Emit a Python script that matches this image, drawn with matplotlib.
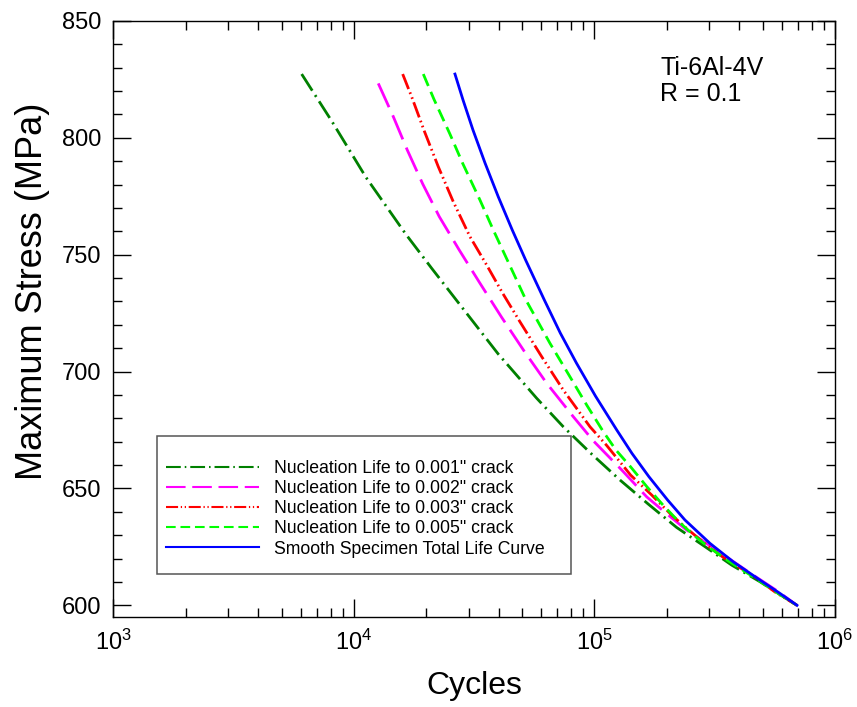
import matplotlib
matplotlib.use("Agg")
import matplotlib.pyplot as plt
from matplotlib.patches import Rectangle

plt.rcParams['font.family'] = ['Liberation Sans', 'DejaVu Sans']
plt.rcParams['mathtext.fontset'] = 'custom'
plt.rcParams['mathtext.rm'] = 'Liberation Sans'
plt.rcParams['mathtext.it'] = 'Liberation Sans:italic'
plt.rcParams['mathtext.bf'] = 'Liberation Sans:bold'

# ---- data ----
labels = ['Nucleation Life to 0.001" crack',
          'Nucleation Life to 0.002" crack',
          'Nucleation Life to 0.003" crack',
          'Nucleation Life to 0.005" crack',
          'Smooth Specimen Total Life Curve']

n001_cycles = [6060, 8080, 11220, 16450, 21040, 29420, 39810, 57500, 74200, 97370,
               127700, 167400, 219700, 288100, 372000, 487600, 609500, 695000]
n001_stress = [827.3, 807.2, 783.1, 758.7, 744.2, 724.9, 707.5, 688.6, 676.4, 664.7,
               653.6, 643.3, 633.3, 625.1, 617.2, 610.1, 603.7, 600.0]

n002_cycles = [12620, 14570, 16660, 19310, 22630, 27400, 33410, 41130, 50900, 63300,
               81650, 98850, 129800, 164900, 202800, 241700, 332500, 457500, 568500, 695000]
n002_stress = [823.3, 809.1, 794.8, 780.3, 766.3, 752.0, 737.8, 723.2, 708.9, 695.0,
               680.7, 670.4, 657.9, 646.4, 638.6, 632.2, 622.6, 612.9, 606.5, 600.0]

n003_cycles = [15940, 17370, 19610, 22410, 25870, 30360, 35620, 41530, 49000, 60320,
               74200, 95790, 112400, 141400, 172900, 209400, 241700, 292800, 342200,
               465000, 563000, 695000]
n003_stress = [827.3, 817.6, 802.9, 787.7, 772.7, 757.7, 745.6, 733.5, 721.3, 706.4,
               692.1, 676.4, 668.4, 655.7, 647.2, 638.6, 632.9, 625.8, 620.6,
               612.1, 605.7, 600.0]

n005_cycles = [19420, 21510, 25070, 28310, 33410, 37950, 42780, 51900, 65310, 78340,
               92820, 108800, 122900, 141200, 165300, 192700, 224600, 258000, 296500,
               355500, 464900, 568500, 695000]
n005_stress = [827.3, 816.5, 801.6, 789.1, 773.4, 760.6, 749.1, 730.6, 712.1, 698.5,
               685.7, 674.3, 666.4, 659.3, 650.7, 642.9, 635.7, 630.1, 625.1,
               619.4, 611.7, 605.7, 600.0]

smooth_cycles = [26300, 28410, 31240, 35080, 39810, 45510, 51750, 61900, 72090, 84090,
                 101000, 123800, 143200, 168500, 201600, 237800, 302200, 377700,
                 487600, 590500, 695000]
smooth_stress = [827.3, 816.2, 803.4, 789.2, 774.8, 760.6, 747.7, 730.6, 716.5, 703.7,
                 689.5, 675.0, 665.0, 655.0, 645.0, 636.5, 626.5, 618.6,
                 610.8, 605.1, 600.0]

annotation = 'Ti-6Al-4V\nR = 0.1'

# ---- figure ----
fig = plt.figure(figsize=(8.57, 7.07), dpi=100)
ax = fig.add_axes([0.1324, 0.1273, 0.8419, 0.8430])

series = [
    (n001_cycles, n001_stress, '#008000', (0, (7.1, 1.9, 0.75, 1.9))),
    (n002_cycles, n002_stress, '#FF00FF', (0, (9.4, 3.2))),
    (n003_cycles, n003_stress, '#FF0000', (0, (5.8, 1.3, 0.6, 1.3, 0.6, 1.3))),
    (n005_cycles, n005_stress, '#00FF00', (0, (4.65, 2.3))),
    (smooth_cycles, smooth_stress, '#0000FF', '-'),
]
handles = []
for (cx, cy, col, ls), lab in zip(series, labels):
    h, = ax.plot(cx, cy, color=col, linestyle=ls, linewidth=2.0, label=lab)
    handles.append(h)

ax.set_xscale('log')
ax.set_xlim(1e3, 1e6)
ax.set_ylim(595, 850)
ax.set_yticks([600, 650, 700, 750, 800, 850])
ax.set_yticks(range(600, 851, 10), minor=True)

ax.tick_params(which='both', direction='in', top=True, right=True, width=1.0,
               labelsize=17, pad=9)
ax.tick_params(which='major', length=13)
ax.tick_params(which='minor', length=6.8)
for s in ax.spines.values():
    s.set_linewidth(1.0)

ax.set_xlabel('Cycles', fontsize=23, labelpad=12)
ax.set_ylabel('Maximum Stress (MPa)', fontsize=26)
ax.yaxis.set_label_coords(-0.0873, 0.546)

ax.text(0.758, 0.9417, annotation, transform=ax.transAxes, fontsize=18,
        va='top', ha='left', linespacing=1.1)

# legend box
ax.add_patch(Rectangle((0.0603, 0.0721), 0.5737, 0.2316, transform=ax.transAxes,
                       facecolor='white', edgecolor='#555555', linewidth=1.1, zorder=5))
leg = ax.legend(handles=handles, loc='upper left', bbox_to_anchor=(0.0728, 0.2636),
                frameon=False, fontsize=12.7, borderpad=0, borderaxespad=0,
                handlelength=5.3, handletextpad=0.85, labelspacing=0.18)
leg.set_zorder(6)
for lh in leg.get_lines():
    lh.set_linewidth(1.5)

fig.savefig('out.png', dpi=100)
